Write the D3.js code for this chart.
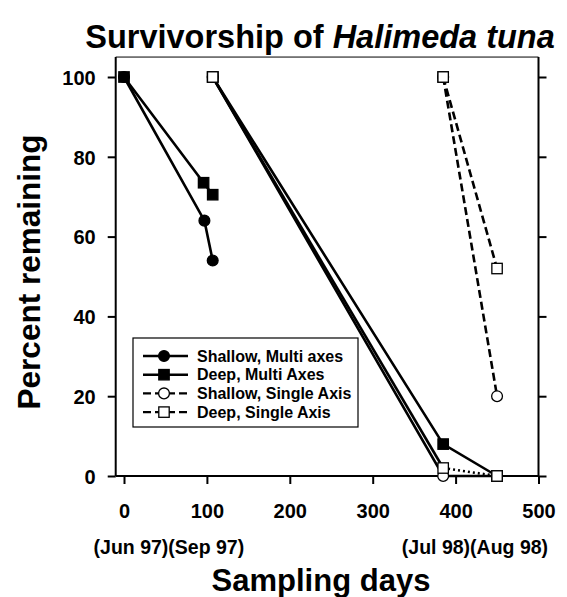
<!DOCTYPE html>
<html><head><meta charset="utf-8">
<script src="https://cdn.jsdelivr.net/npm/d3@7/dist/d3.min.js"></script>
<style>
body{margin:0;background:#fff}
text{font-family:"Liberation Sans",Arial,Helvetica,sans-serif;font-weight:bold;fill:#000}
</style>
</head><body>
<svg id="chart" width="567" height="597"></svg>
<script>
// ---- data ----
const xTicks = [0, 100, 200, 300, 400, 500];
const yTicks = [0, 20, 40, 60, 80, 100];
const dateLabels = ["(Jun 97)", "(Sep 97)", "(Jul 98)", "(Aug 98)"];
const dateDays = [0, 107, 385, 450];

// cohort 1 (Jun 97)
const shallowMultiDays = [0, 97, 107];
const shallowMultiPct = [100, 64, 54];
const deepMultiDays = [0, 96, 107];
const deepMultiPct = [100, 73.5, 70.5];
// cohort 2 (Sep 97)
const deepMulti2Days = [107, 385, 450];
const deepMulti2Pct = [100, 8, 0];
const shallowMulti2Days = [107, 385, 450];
const shallowMulti2Pct = [100, 0, 0];
const deepSingle2Days = [107, 385, 450];
const deepSingle2Pct = [100, 2, 0];
// cohort 3 (Jul 98)
const deepSingleDays = [385, 450];
const deepSinglePct = [100, 52];
const shallowSingleDays = [385, 450];
const shallowSinglePct = [100, 20];

const legendLabels = ["Shallow, Multi axes", "Deep, Multi Axes", "Shallow, Single Axis", "Deep, Single Axis"];

// ---- setup ----
const svg = d3.select("#chart");
const x = d3.scaleLinear().domain([0, 500]).range([124, 538.5]);
const y = d3.scaleLinear().domain([0, 100]).range([476, 77]);
const xLeft = x(-10), yTop = y(105);

const styles = { solid: null, dashed: "8,4", dotted: "2,3" };

function zip(d, p) { return d.map((v, i) => ({ d: v, p: p[i] })); }

// dashFrom: segment index from which the dash style applies (earlier segments solid)
const series = [
  { pts: zip(shallowMulti2Days, shallowMulti2Pct), shape: "circle", fill: "#fff", dash: "solid" },
  { pts: zip(deepSingle2Days, deepSingle2Pct), shape: "square", fill: "#fff", dash: "dotted", dashFrom: 1 },
  { pts: zip(deepMulti2Days, deepMulti2Pct), shape: "square", fill: "#000", dash: "solid", openEnds: true },
  { pts: zip(shallowSingleDays, shallowSinglePct), shape: "circle", fill: "#fff", dash: "dashed" },
  { pts: zip(deepSingleDays, deepSinglePct), shape: "square", fill: "#fff", dash: "dashed" },
  { pts: zip(deepMultiDays, deepMultiPct), shape: "square", fill: "#000", dash: "solid" },
  { pts: zip(shallowMultiDays, shallowMultiPct), shape: "circle", fill: "#000", dash: "solid" }
];

// ---- frame ----
const frame = svg.append("g").attr("stroke", "#000").attr("fill", "none");
frame.append("line").attr("x1", xLeft).attr("x2", xLeft).attr("y1", yTop).attr("y2", y(0)).attr("stroke-width", 2);
frame.append("line").attr("x1", x(500)).attr("x2", x(500)).attr("y1", yTop).attr("y2", y(0)).attr("stroke-width", 2);
frame.append("line").attr("x1", xLeft).attr("x2", x(500)).attr("y1", yTop).attr("y2", yTop).attr("stroke-width", 1);
frame.append("line").attr("x1", xLeft).attr("x2", x(500)).attr("y1", y(0)).attr("y2", y(0)).attr("stroke-width", 2);

// ---- axes ----
const yAxisL = svg.append("g").attr("transform", `translate(${xLeft},0)`)
  .call(d3.axisLeft(y).tickValues(yTicks).tickSize(8).tickSizeOuter(0).tickPadding(12));
const yAxisR = svg.append("g").attr("transform", `translate(${x(500)},0)`)
  .call(d3.axisRight(y).tickValues(yTicks).tickSize(8).tickSizeOuter(0).tickFormat(""));
const xAxis = svg.append("g").attr("transform", `translate(0,${y(0)})`)
  .call(d3.axisBottom(x).tickValues(xTicks).tickSize(8).tickSizeOuter(0).tickPadding(20));
[yAxisL, yAxisR, xAxis].forEach(g => {
  g.select(".domain").remove();
  g.selectAll(".tick line").attr("stroke", "#000").attr("stroke-width", 2);
  g.selectAll(".tick text").style("font-size", "20px").attr("font-family", null);
});
yAxisL.selectAll(".tick text").attr("dy", "0.36em");
xAxis.selectAll(".tick text").attr("dy", "0.71em");

// date labels under tick labels
const dateG = svg.append("g").style("font-size", "19.5px");
dateLabels.forEach((t, i) => {
  const pair = i < 2 ? [0, 1] : [2, 3];
  const xp = x((dateDays[pair[0]] + dateDays[pair[1]]) / 2);
  const anchor = (i % 2 === 0) ? "end" : "start";
  dateG.append("text").attr("x", xp).attr("y", 554).attr("text-anchor", anchor).text(t);
});

// ---- lines ----
const line = d3.line().x(d => x(d.d)).y(d => y(d.p));
const lineG = svg.append("g");
series.forEach(s => {
  const k = s.dashFrom || 0;
  if (k > 0) {
    lineG.append("path").datum(s.pts.slice(0, k + 1)).attr("d", line)
      .attr("fill", "none").attr("stroke", "#000").attr("stroke-width", 2.6);
  }
  lineG.append("path").datum(s.pts.slice(k)).attr("d", line)
    .attr("fill", "none").attr("stroke", "#000").attr("stroke-width", 2.6)
    .attr("stroke-dasharray", styles[s.dash]);
});

function marker(g, shape, cx, cy, fill) {
  if (shape === "circle") {
    g.append("circle").attr("cx", cx).attr("cy", cy).attr("r", 5.4)
      .attr("fill", fill).attr("stroke", "#000").attr("stroke-width", 1.3);
  } else {
    g.append("rect").attr("x", cx - 5.2).attr("y", cy - 5.2).attr("width", 10.4).attr("height", 10.4)
      .attr("fill", fill).attr("stroke", "#000").attr("stroke-width", 1.3);
  }
}
const markG = svg.append("g");
series.forEach(s => {
  s.pts.forEach((p, i) => {
    let f = s.fill;
    if (s.openEnds && (i === 0 || i === s.pts.length - 1)) f = "#fff";
    marker(markG, s.shape, x(p.d), y(p.p), f);
  });
});
// open squares on top at cohort starts and the final point
marker(markG, "square", x(deepMulti2Days[0]), y(deepMulti2Pct[0]), "#fff");
marker(markG, "square", x(deepSingleDays[0]), y(deepSinglePct[0]), "#fff");
marker(markG, "square", x(deepMulti2Days[2]), y(deepMulti2Pct[2]), "#fff");

// ---- legend ----
const lg = svg.append("g");
lg.append("rect").attr("x", 133).attr("y", 338).attr("width", 225).attr("height", 89)
  .attr("fill", "#fff").attr("stroke", "#000").attr("stroke-width", 1.2);
const legendShapes = ["circle", "square", "circle", "square"];
const legendFills = ["#000", "#000", "#fff", "#fff"];
const legendDash = ["solid", "solid", "dashed", "dashed"];
legendLabels.forEach((t, i) => {
  const yy = 356 + i * 18.7;
  lg.append("line").attr("x1", 143).attr("x2", 188).attr("y1", yy).attr("y2", yy)
    .attr("stroke", "#000").attr("stroke-width", 2.4).attr("stroke-dasharray", styles[legendDash[i]]);
  marker(lg, legendShapes[i], 164, yy, legendFills[i]);
  lg.append("text").attr("x", 197).attr("y", yy + 5.5).style("font-size", "16px").text(t);
});

// ---- titles ----
const title = svg.append("text").attr("x", 320).attr("y", 48).attr("text-anchor", "middle").style("font-size", "32.5px");
title.append("tspan").text("Survivorship of ");
title.append("tspan").style("font-style", "italic").text("Halimeda tuna");

svg.append("text").attr("transform", "translate(40,272) rotate(-90)").attr("text-anchor", "middle")
  .style("font-size", "31.5px").text("Percent remaining");
svg.append("text").attr("x", 321).attr("y", 591).attr("text-anchor", "middle")
  .style("font-size", "31px").text("Sampling days");
</script>
</body></html>
